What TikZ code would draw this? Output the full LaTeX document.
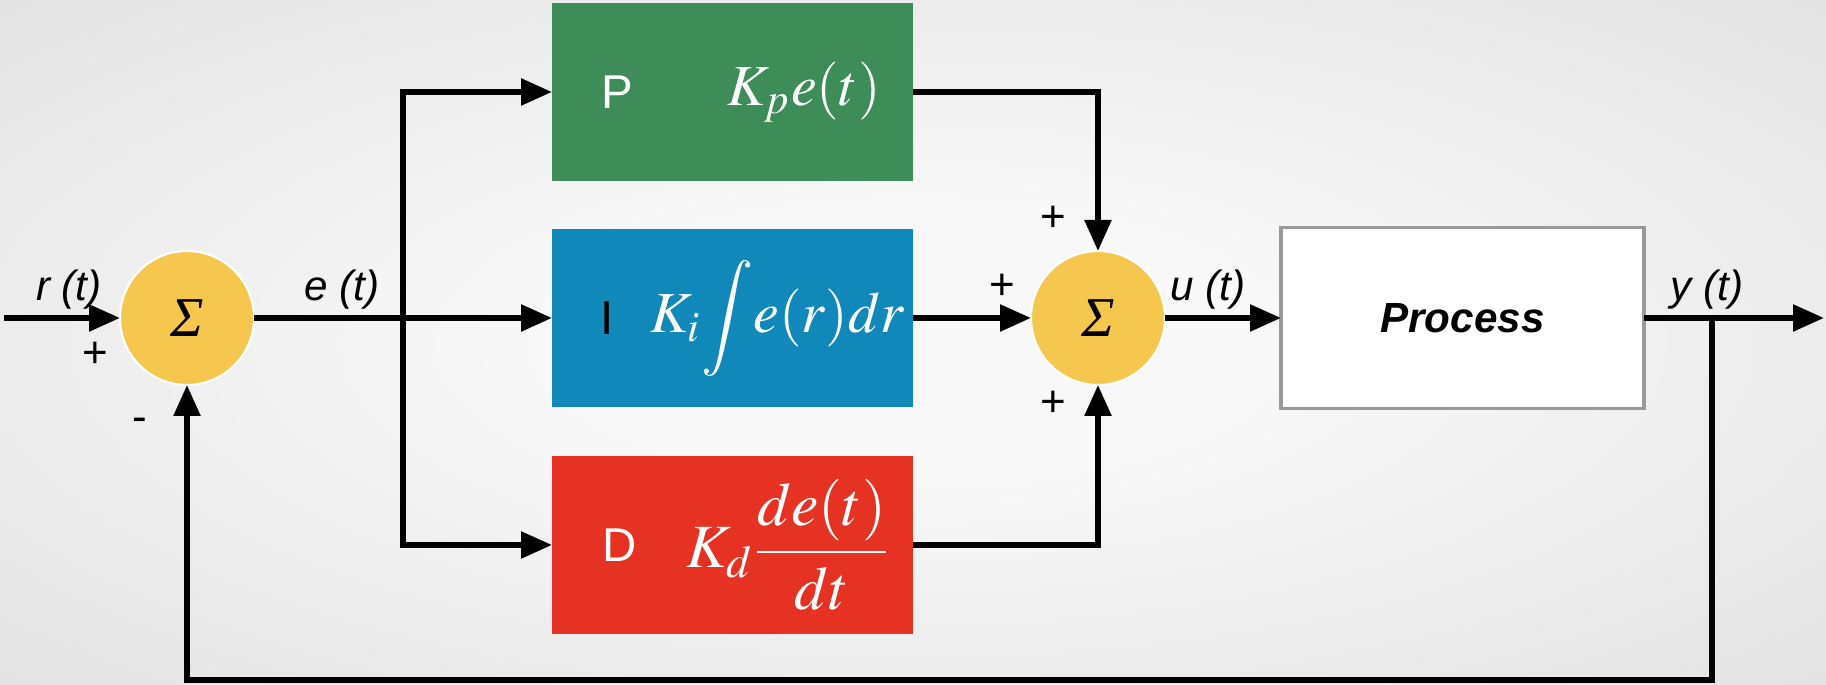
\documentclass[tikz,border=0pt]{standalone}
\usepackage{amsmath}
\usepackage{mathptmx}
\usepackage[no-math]{fontspec}
\setsansfont{Liberation Sans}
\newfontfamily\sigmafont{Liberation Serif}
\usepackage{xcolor}
\usetikzlibrary{shapes,arrows.meta,positioning}

\definecolor{pgreen}{HTML}{3E8C57}
\definecolor{iblue}{HTML}{1088BA}
\definecolor{dred}{HTML}{E53222}
\definecolor{sumyellow}{HTML}{F5C74E}
\definecolor{bgin}{HTML}{F8F8F8}
\definecolor{bgout}{HTML}{D8D8D8}
\pgfdeclareradialshading{bgglow}{\pgfpoint{0bp}{0bp}}{color(0bp)=(bgin); color(10bp)=(bgin); color(50bp)=(bgout); color(75bp)=(bgout)}

\begin{document}
\begin{tikzpicture}[
    node distance=1cm,
    box/.style={rectangle, minimum width=3.61cm, minimum height=1.78cm, inner sep=0pt, outer sep=0pt},
    sum/.style={circle, fill=sumyellow, draw=white, line width=0.6pt, minimum size=1.34cm, inner sep=0pt, outer sep=0pt, font=\sigmafont\itshape\fontsize{16}{18}\selectfont},
    arrow/.style={-{Triangle[length=0.31cm, width=0.26cm]}, line width=1.6pt},
    line/.style={line width=1.6pt},
    lbl/.style={font=\sffamily\itshape\fontsize{12}{14}\selectfont},
    sign/.style={font=\sffamily\fontsize{12.5}{14}\selectfont},
    letter/.style={font=\sffamily\fontsize{13.5}{16}\selectfont},
    gain/.style={text=white, font=\fontsize{16.5}{19}\selectfont}
]
% background
\shade[shading=bgglow] (0,0) rectangle (18.26,6.85);
\useasboundingbox (0,0) rectangle (18.26,6.85);

% summing points and blocks
\node[sum] (sumL) at (1.87,3.67) {Σ};
\node[box, fill=iblue, right=2.98cm of sumL] (ibox) {};
\node[box, fill=pgreen, above=0.48cm of ibox] (pbox) {};
\node[box, fill=dred, below=0.49cm of ibox] (dbox) {};
\node[sum, right=1.18cm of ibox] (sumR) {Σ};
\node[box, fill=white, draw=gray!80, line width=1pt, minimum width=3.63cm, minimum height=1.81cm,
      right=1.16cm of sumR, font=\sffamily\bfseries\itshape\fontsize{12}{14}\selectfont] (process) {Process};

% block contents
\node[letter, text=white] (plbl) at ([xshift=0.65cm]pbox.west) {P};
\node[gain] (pgain) at ([xshift=0.715cm]pbox.center) {$K_p e(t)$};
\node[letter] (ilbl) at ([xshift=0.55cm]ibox.west) {I};
\node[gain] (igain) at ([xshift=0.45cm]ibox.center) {$K_i \!\displaystyle\int\! e(r)dr$};
\node[letter, text=white] (dlbl) at ([xshift=0.68cm]dbox.west) {D};
\node[gain, font=\fontsize{17.5}{20}\selectfont] (dgain) at ([xshift=0.56cm]dbox.center) {$K_d \dfrac{de(t)}{dt}$};

% helper points
\coordinate[left=1.16cm of sumL.west] (rin);
\coordinate[right=1.49cm of sumL.east] (branch);
\coordinate[right=0.68cm of process.east] (tap);
\coordinate[right=1.80cm of process.east] (yout);
\coordinate (fbcorner) at (tap |- 0,0.05);

% signals
\draw[arrow] (rin) -- (sumL);
\draw[line] (sumL) -- (branch);
\draw[arrow] (branch) -- (ibox);
\draw[arrow] (branch) |- (pbox);
\draw[arrow] (branch) |- (dbox);
\draw[arrow] (pbox) -| (sumR);
\draw[arrow] (ibox) -- (sumR);
\draw[arrow] (dbox) -| (sumR);
\draw[arrow] (sumR) -- (process);
\draw[arrow] (process) -- (yout);
\draw[arrow] (tap) -- (fbcorner) -| (sumL);

% labels
\node[lbl] (rlbl) at (0.69,3.95) {r (t)};
\node[lbl] (elbl) at (3.42,3.95) {e (t)};
\node[lbl] (ulbl) at (12.08,3.95) {u (t)};
\node[lbl] (ylbl) at (17.07,3.95) {y (t)};
\node[sign] (plusin) at (0.95,3.30) {+};
\node[sign] (minusfb) at (1.40,2.60) {-};
\node[sign] (plusp) at (10.53,4.66) {+};
\node[sign] (plusi) at (10.02,3.98) {+};
\node[sign] (plusd) at (10.53,2.81) {+};
\end{tikzpicture}
\end{document}
